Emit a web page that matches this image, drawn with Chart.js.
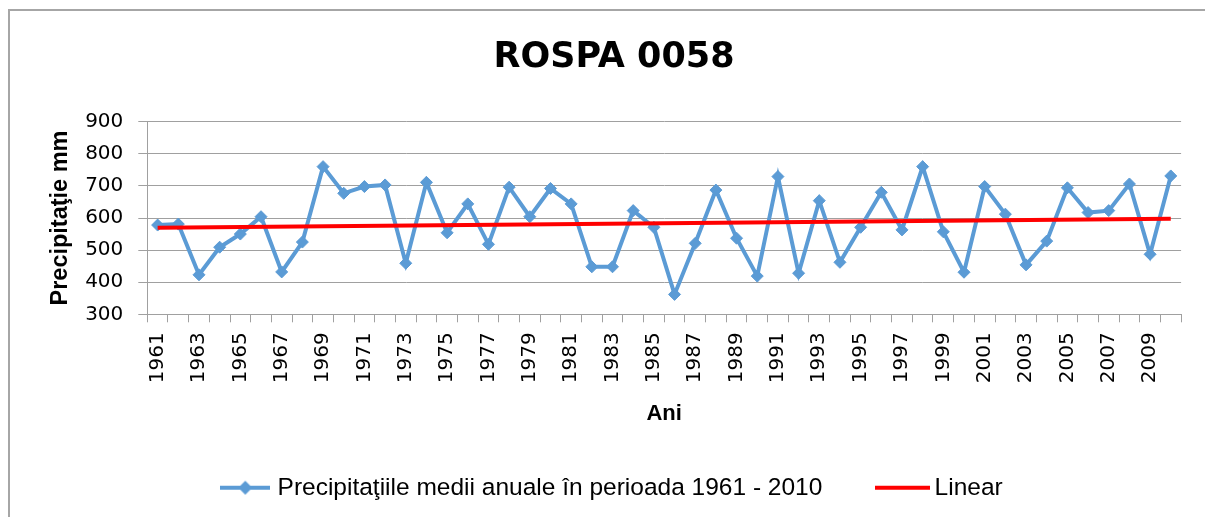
<!DOCTYPE html>
<html lang="ro">
<head>
    <meta charset="UTF-8">
    <title>ROSPA 0058</title>
    <script src="https://cdn.jsdelivr.net/npm/chart.js"></script>
    <style>
        body {
            margin: 0;
            background-color: #fff;
            overflow: hidden;
        }
        #frame {
            position: absolute;
            left: 8px;
            top: 9px;
            width: 1400px;
            height: 700px;
            border-left: 2px solid #a6a6a6;
            border-top: 2px solid #a6a6a6;
        }
        #wrap {
            position: absolute;
            left: 0;
            top: 0;
            width: 1205px;
            height: 517px;
        }
    </style>
</head>
<body>
    <div id="frame"></div>
    <div id="wrap"><canvas id="rospaChart"></canvas></div>

    <script>
        const years = ['1961', '1962', '1963', '1964', '1965', '1966', '1967', '1968', '1969', '1970',
                       '1971', '1972', '1973', '1974', '1975', '1976', '1977', '1978', '1979', '1980',
                       '1981', '1982', '1983', '1984', '1985', '1986', '1987', '1988', '1989', '1990',
                       '1991', '1992', '1993', '1994', '1995', '1996', '1997', '1998', '1999', '2000',
                       '2001', '2002', '2003', '2004', '2005', '2006', '2007', '2008', '2009', '2010'];
        const precip = [578, 581, 423, 509, 550, 604, 432, 525, 760, 677,
                        698, 703, 459, 711, 554, 644, 518, 696, 604, 692,
                        644, 448, 448, 623, 571, 362, 521, 687, 537, 419,
                        729, 428, 654, 462, 571, 680, 563, 760, 557, 431,
                        698, 612, 454, 528, 694, 617, 623, 706, 487, 731];
        // trend line read at its two ends
        const trendYears = ['1961', '2010'];
        const trendValues = [570, 598];
        const yTicks = [300, 400, 500, 600, 700, 800, 900];

        const seriesLabel = 'Precipitaţiile medii anuale în perioada 1961 - 2010';
        const trendLabel = 'Linear';
        const blue = '#5b9bd5';
        const red = '#ff0000';

        Chart.defaults.font.family = 'DejaVu Sans';
        Chart.defaults.color = '#000';

        // legend icons: line with diamond, plain line
        function lineIcon(color, w, diamond) {
            const c = document.createElement('canvas');
            c.width = w;
            c.height = 16;
            const g = c.getContext('2d');
            g.strokeStyle = color;
            g.lineWidth = 4;
            g.beginPath();
            g.moveTo(0, 8);
            g.lineTo(w, 8);
            g.stroke();
            if (diamond) {
                g.fillStyle = color;
                g.beginPath();
                g.moveTo(w / 2 - 7, 8);
                g.lineTo(w / 2, 1);
                g.lineTo(w / 2 + 7, 8);
                g.lineTo(w / 2, 15);
                g.closePath();
                g.fill();
            }
            return c;
        }
        const blueIcon = lineIcon(blue, 50, true);
        const redIcon = lineIcon(red, 55, false);

        const ctx = document.getElementById('rospaChart').getContext('2d');
        new Chart(ctx, {
            type: 'line',
            data: {
                labels: years,
                datasets: [
                    {
                        label: seriesLabel,
                        data: precip,
                        borderColor: blue,
                        backgroundColor: blue,
                        borderWidth: 4,
                        pointStyle: 'rectRot',
                        pointRadius: 6,
                        pointBorderWidth: 1,
                        tension: 0,
                        order: 1
                    },
                    {
                        label: trendLabel,
                        data: trendYears.map((y, i) => ({x: y, y: trendValues[i]})),
                        borderColor: red,
                        backgroundColor: red,
                        borderWidth: 4,
                        pointRadius: 0,
                        order: 0
                    }
                ]
            },
            options: {
                responsive: true,
                maintainAspectRatio: false,
                animation: false,
                layout: { padding: { left: 46, right: 23, top: 0, bottom: 7 } },
                plugins: {
                    title: {
                        display: true,
                        text: 'ROSPA 0058',
                        color: '#000',
                        font: { family: 'DejaVu Sans', size: 35, weight: 'bold' },
                        padding: { top: 37, bottom: 42.7 }
                    },
                    legend: {
                        position: 'bottom',
                        labels: {
                            usePointStyle: true,
                            pointStyleWidth: 40,
                            padding: 60,
                            color: '#000',
                            font: { family: 'Liberation Sans', size: 24.5 },
                            generateLabels: function() {
                                return [
                                    { text: seriesLabel, pointStyle: blueIcon, fillStyle: blue, strokeStyle: blue, lineWidth: 0, datasetIndex: 0 },
                                    { text: trendLabel, pointStyle: redIcon, fillStyle: red, strokeStyle: red, lineWidth: 0, datasetIndex: 1 }
                                ];
                            }
                        }
                    },
                    tooltip: { enabled: false }
                },
                scales: {
                    x: {
                        type: 'category',
                        offset: true,
                        grid: {
                            offset: true,
                            drawOnChartArea: false,
                            color: '#a0a0a0',
                            tickLength: 8
                        },
                        border: { color: '#a0a0a0' },
                        afterFit: function(axis) {
                            axis.height = 101.2;
                        },
                        ticks: {
                            autoSkip: false,
                            maxRotation: 90,
                            minRotation: 90,
                            padding: 10,
                            font: { size: 20 },
                            callback: function(val, idx) {
                                return idx % 2 === 0 ? this.getLabelForValue(val) : '';
                            }
                        },
                        title: {
                            display: true,
                            text: 'Ani',
                            font: { family: 'Liberation Sans', size: 22, weight: 'bold' },
                            padding: { top: 10, bottom: -12 }
                        }
                    },
                    y: {
                        min: yTicks[0],
                        max: yTicks[yTicks.length - 1],
                        grid: { color: '#a0a0a0', tickLength: 9 },
                        border: { color: '#a0a0a0' },
                        afterBuildTicks: function(axis) {
                            axis.ticks = yTicks.map(v => ({ value: v }));
                        },
                        afterFit: function(axis) {
                            axis.width = 101.3;
                        },
                        ticks: {
                            padding: 15,
                            font: { size: 20 }
                        },
                        title: {
                            display: true,
                            text: 'Precipitaţie mm',
                            font: { family: 'Liberation Sans', size: 23.5, weight: 'bold' },
                            padding: { top: 0, bottom: 10 }
                        }
                    }
                }
            }
        });
    </script>
</body>
</html>
